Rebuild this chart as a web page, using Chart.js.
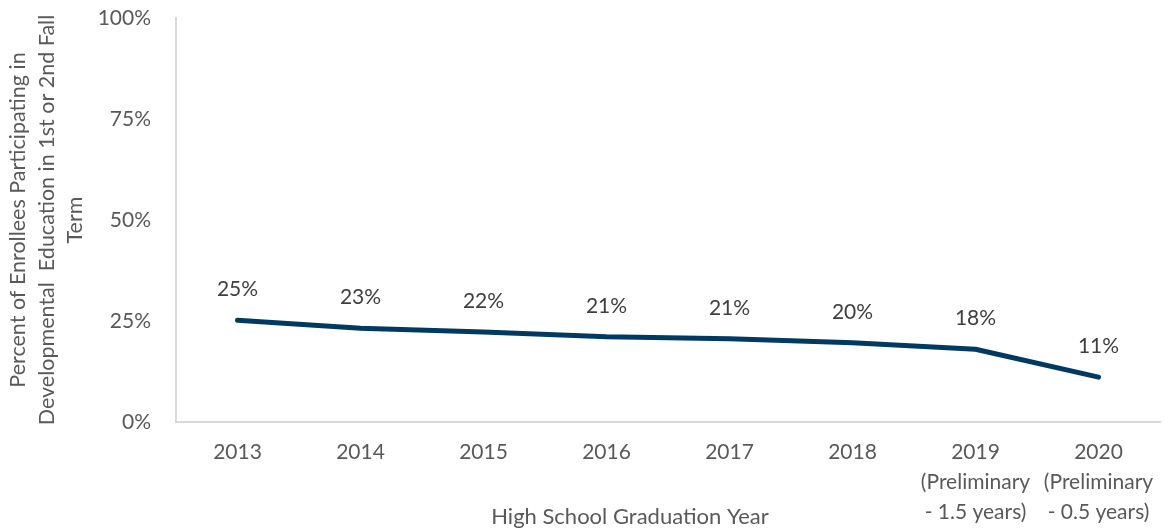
<!DOCTYPE html>
<html>
<head>
<meta charset="utf-8">
<script src="https://cdn.jsdelivr.net/npm/chart.js@4/dist/chart.umd.min.js"></script>
<style>
  html, body { margin: 0; padding: 0; background: #fff; }
  #wrap { width: 1164px; height: 531px; }
</style>
</head>
<body>
<div id="wrap"><canvas id="devEdChart" width="1164" height="531"></canvas></div>
<script>
// Años de graduación (las dos últimas cohortes son preliminares)
const years = [
    '2013', '2014', '2015', '2016', '2017', '2018',
    ['2019', '(Preliminary', '- 1.5 years)'],
    ['2020', '(Preliminary', '- 0.5 years)']
];
// Porcentaje en educación de desarrollo
const devEdRates = [25.2, 23.2, 22.3, 21.1, 20.6, 19.6, 18.0, 11.1];
const yTicks = [0, 25, 50, 75, 100];

const textGray = '#595959';
const lineBlue = '#003a63';
const fontFamily = 'Lato, "Open Sans", sans-serif';

// Etiquetas de valor encima de cada punto y título del eje X
const labelsPlugin = {
    id: 'valueLabels',
    afterDatasetsDraw(chart) {
        const ctx = chart.ctx;
        const meta = chart.getDatasetMeta(0);
        ctx.save();
        ctx.font = '21px ' + fontFamily;
        ctx.fillStyle = '#404040';
        ctx.textAlign = 'center';
        ctx.textBaseline = 'middle';
        meta.data.forEach((pt, i) => {
            ctx.fillText(Math.round(devEdRates[i]) + '%', pt.x, pt.y - 31);
        });
        ctx.font = '22px ' + fontFamily;
        ctx.fillStyle = textGray;
        ctx.fillText('High School Graduation Year', 630, 517);
        ctx.restore();
    }
};

const ctx = document.getElementById('devEdChart').getContext('2d');
const chart = new Chart(ctx, {
    type: 'line',
    data: {
        labels: years,
        datasets: [{
            data: devEdRates,
            borderColor: lineBlue,
            borderWidth: 5,
            borderCapStyle: 'round',
            borderJoinStyle: 'round',
            pointRadius: 0,
            tension: 0,
            fill: false
        }]
    },
    options: {
        responsive: false,
        animation: false,
        layout: { padding: { left: 4, top: 18, right: 4, bottom: 0 } },
        plugins: {
            legend: { display: false },
            tooltip: { enabled: false }
        },
        scales: {
            x: {
                offset: true,
                grid: { display: false },
                border: { display: true, color: '#d9d9d9', width: 2 },
                ticks: {
                    color: textGray,
                    font: { family: fontFamily, size: 21, lineHeight: 1.43 },
                    padding: 7,
                    maxRotation: 0,
                    autoSkip: false
                },
                afterFit: (scale) => { scale.height = 531 - 422; }
            },
            y: {
                min: 0,
                max: 100,
                afterBuildTicks: (scale) => { scale.ticks = yTicks.map(v => ({ value: v })); },
                grid: { display: false },
                border: { display: true, color: '#d9d9d9', width: 2 },
                ticks: {
                    color: textGray,
                    font: { family: fontFamily, size: 21 },
                    padding: 17,
                    callback: (v) => v + '%'
                },
                title: {
                    display: true,
                    text: [
                        'Percent of Enrollees Participating in',
                        'Developmental  Education in 1st or 2nd Fall',
                        'Term'
                    ],
                    color: textGray,
                    font: { family: fontFamily, size: 21.5, lineHeight: 1.33 },
                    padding: { top: 0, bottom: 0 }
                },
                afterFit: (scale) => {
                    scale.width = 176 - 4;
                    scale.paddingTop = 0;
                }
            }
        }
    },
    plugins: [labelsPlugin]
});
</script>
</body>
</html>
